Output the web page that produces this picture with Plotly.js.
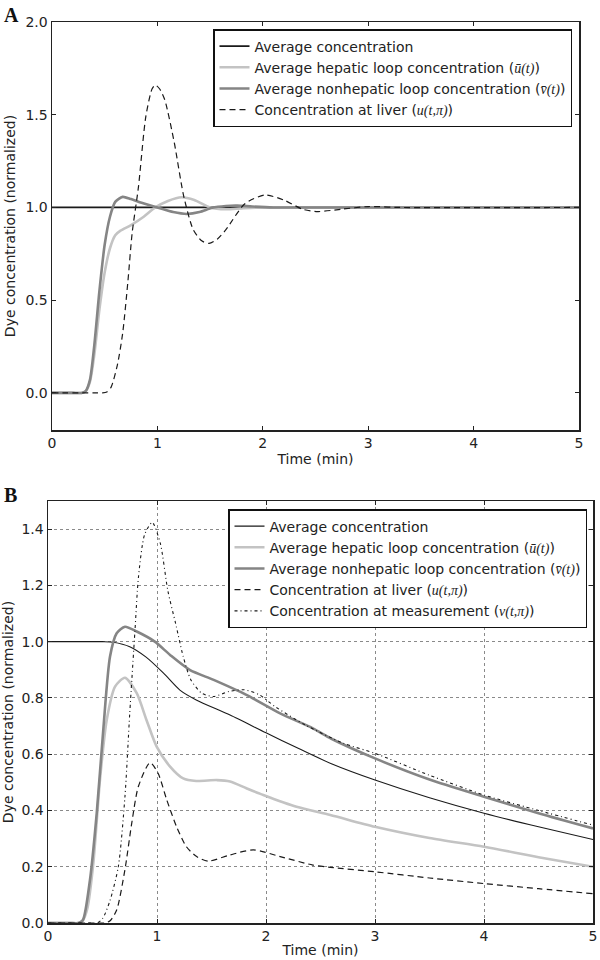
<!DOCTYPE html>
<html>
<head>
<meta charset="utf-8">
<script src="https://cdn.plot.ly/plotly-3.0.1.min.js"></script>
<style>html,body{margin:0;padding:0;background:#fff;}#chart{width:600px;height:960px;}</style>
</head>
<body>
<div id="chart"></div>
<script>
// ---------- Panel A data ----------
const A_avg_t = [0, 5];
const A_avg_y = [1.0, 1.0];

const A_ubar_t = [0, 0.2, 0.28, 0.32, 0.36, 0.4, 0.45, 0.5, 0.55, 0.6, 0.65, 0.75, 0.87, 0.98, 1.1, 1.23, 1.35, 1.5, 1.65, 1.8, 2.0, 2.3, 5];
const A_ubar_y = [0, 0, 0, 0.01, 0.06, 0.2, 0.45, 0.65, 0.78, 0.85, 0.875, 0.905, 0.95, 1.0, 1.035, 1.055, 1.04, 1.0, 0.99, 0.995, 1.0, 1.0, 1.0];

const A_vbar_t = [0, 0.2, 0.28, 0.32, 0.36, 0.4, 0.45, 0.5, 0.55, 0.6, 0.67, 0.75, 0.85, 1.0, 1.15, 1.28, 1.4, 1.52, 1.65, 1.76, 1.9, 2.1, 2.5, 5];
const A_vbar_y = [0, 0, 0, 0.01, 0.07, 0.25, 0.55, 0.8, 0.95, 1.03, 1.057, 1.045, 1.025, 1.0, 0.975, 0.965, 0.975, 0.998, 1.008, 1.01, 1.005, 1.0, 1.0, 1.0];

const A_liver_t = [0, 0.4, 0.48, 0.52, 0.56, 0.62, 0.67, 0.72, 0.76, 0.82, 0.89, 0.95, 0.98, 1.02, 1.07, 1.16, 1.25, 1.34, 1.42, 1.49, 1.57, 1.65, 1.83, 2.02, 2.2, 2.38, 2.52, 2.74, 3.0, 3.3, 5];
const A_liver_y = [0, 0, 0, 0.005, 0.03, 0.15, 0.32, 0.6, 0.86, 1.11, 1.49, 1.64, 1.66, 1.64, 1.58, 1.35, 1.06, 0.88, 0.82, 0.806, 0.83, 0.88, 1.02, 1.067, 1.04, 0.99, 0.978, 0.99, 1.005, 1.0, 1.0];

// ---------- Panel B data ----------
const B_avg_t = [0, 0.3, 0.5, 0.6, 0.75, 0.9, 1.06, 1.21, 1.36, 1.67, 2.0, 2.3, 2.6, 3.0, 3.5, 4.0, 4.5, 5.0];
const B_avg_y = [1.0, 1.0, 1.0, 0.998, 0.982, 0.945, 0.888, 0.828, 0.793, 0.739, 0.676, 0.62, 0.566, 0.508, 0.445, 0.39, 0.342, 0.297];

const B_ubar_t = [0, 0.2, 0.28, 0.32, 0.36, 0.416, 0.477, 0.538, 0.615, 0.706, 0.814, 0.905, 0.997, 1.12, 1.24, 1.36, 1.55, 1.67, 1.82, 1.975, 2.28, 2.59, 3.0, 3.5, 4.0, 4.5, 5.0];
const B_ubar_y = [0, 0, 0, 0.01, 0.05, 0.213, 0.51, 0.72, 0.84, 0.872, 0.817, 0.72, 0.627, 0.556, 0.514, 0.505, 0.508, 0.503, 0.479, 0.455, 0.413, 0.384, 0.342, 0.302, 0.271, 0.234, 0.2];

const B_vbar_t = [0, 0.2, 0.28, 0.32, 0.385, 0.447, 0.507, 0.569, 0.63, 0.706, 0.814, 0.98, 1.12, 1.3, 1.52, 1.82, 2.13, 2.43, 2.6, 3.0, 3.5, 4.0, 4.5, 5.0];
const B_vbar_y = [0, 0, 0, 0.01, 0.153, 0.39, 0.686, 0.947, 1.03, 1.053, 1.036, 1.0, 0.953, 0.9, 0.864, 0.811, 0.745, 0.692, 0.655, 0.585, 0.51, 0.449, 0.39, 0.336];

const B_liver_t = [0, 0.45, 0.52, 0.57, 0.63, 0.706, 0.768, 0.829, 0.936, 1.01, 1.09, 1.18, 1.27, 1.364, 1.47, 1.67, 1.884, 2.13, 2.43, 2.59, 3.0, 3.5, 4.0, 4.5, 5.0];
const B_liver_y = [0, 0, 0, 0.008, 0.046, 0.19, 0.354, 0.485, 0.57, 0.532, 0.437, 0.342, 0.271, 0.236, 0.22, 0.242, 0.26, 0.236, 0.206, 0.198, 0.182, 0.16, 0.14, 0.122, 0.104];

const B_meas_t = [0, 0.38, 0.45, 0.5, 0.569, 0.645, 0.706, 0.75, 0.798, 0.83, 0.886, 0.956, 1.03, 1.1, 1.17, 1.24, 1.31, 1.41, 1.52, 1.66, 1.8, 1.94, 2.08, 2.36, 2.71, 3.0, 3.5, 4.0, 4.5, 5.0];
const B_meas_y = [0, 0, 0, 0.015, 0.08, 0.2, 0.449, 0.746, 1.04, 1.23, 1.38, 1.424, 1.35, 1.18, 1.066, 0.948, 0.865, 0.817, 0.805, 0.823, 0.829, 0.811, 0.77, 0.704, 0.639, 0.603, 0.525, 0.455, 0.4, 0.348];

// ---------- Labels ----------
const M = (s) => "<span style=\"font-family:'Liberation Serif'\"><i>" + s + "</i></span>";
const NAME_AVG = "Average concentration";
const NAME_UBAR = "Average hepatic loop concentration (" + M("\u016B(t)") + ")";
const NAME_VBAR = "Average nonhepatic loop concentration (" + M("v\u0304(t)") + ")";
const NAME_LIVER = "Concentration at liver (" + M("u(t,\u03C0)") + ")";
const NAME_MEAS = "Concentration at measurement (" + M("v(t,\u03C0)") + ")";
const X_TITLE = "Time (min)";
const Y_TITLE = "Dye concentration (normalized)";

const C_BLACK = '#1a1a1a', C_LIGHT = '#c3c3c3', C_DARK = '#858585';
const SM = 0.7;

function tr(x, y, name, color, width, dash, xa, ya, leg) {
  return {x: x, y: y, name: name, type: 'scatter', mode: 'lines',
    line: {color: color, width: width, dash: dash, shape: 'spline', smoothing: SM},
    xaxis: xa, yaxis: ya, legend: leg, hoverinfo: 'skip'};
}

const data = [
  tr(A_avg_t, A_avg_y, NAME_AVG, C_BLACK, 1.7, 'solid', 'x', 'y', 'legend'),
  tr(A_ubar_t, A_ubar_y, NAME_UBAR, C_LIGHT, 2.6, 'solid', 'x', 'y', 'legend'),
  tr(A_vbar_t, A_vbar_y, NAME_VBAR, C_DARK, 2.6, 'solid', 'x', 'y', 'legend'),
  tr(A_liver_t, A_liver_y, NAME_LIVER, C_BLACK, 1.2, '6px,4px', 'x', 'y', 'legend'),
  tr(B_avg_t, B_avg_y, NAME_AVG, C_BLACK, 1.1, 'solid', 'x2', 'y2', 'legend2'),
  tr(B_ubar_t, B_ubar_y, NAME_UBAR, C_LIGHT, 2.6, 'solid', 'x2', 'y2', 'legend2'),
  tr(B_vbar_t, B_vbar_y, NAME_VBAR, C_DARK, 2.6, 'solid', 'x2', 'y2', 'legend2'),
  tr(B_liver_t, B_liver_y, NAME_LIVER, C_BLACK, 1.2, '6px,4px', 'x2', 'y2', 'legend2'),
  tr(B_meas_t, B_meas_y, NAME_MEAS, C_BLACK, 1.1, '3px,3px,1px,3px', 'x2', 'y2', 'legend2')
];

const FONT = {family: 'DejaVu Sans', size: 14, color: '#222'};
const axBase = {
  ticks: 'inside', ticklen: 4, tickwidth: 1, tickcolor: '#222',
  mirror: 'allticks', showline: true, linecolor: '#222', linewidth: 1.5,
  zeroline: false, tickfont: FONT, automargin: false
};
const legBase = {
  bgcolor: '#fff', bordercolor: '#111', borderwidth: 1.5,
  font: {family: 'DejaVu Sans', size: 14, color: '#222'},
  xanchor: 'right', yanchor: 'top', xref: 'paper', yref: 'paper',
  tracegroupgap: 0, itemwidth: 30
};

const layout = {
  width: 600, height: 960,
  margin: {l: 0, r: 0, t: 0, b: 0},
  paper_bgcolor: '#fff', plot_bgcolor: '#fff',
  showlegend: true,
  font: FONT,
  xaxis: Object.assign({}, axBase, {domain: [52/600, 579/600], anchor: 'y', range: [0, 5], dtick: 1, tick0: 0,
    showgrid: false, title: {text: X_TITLE, font: FONT, standoff: 4}}),
  yaxis: Object.assign({}, axBase, {domain: [1 - 430/960, 1 - 22/960], anchor: 'x', range: [-0.2, 2.0], dtick: 0.5, tick0: 0,
    tickformat: '.1f', showgrid: false, title: {text: Y_TITLE, font: FONT, standoff: 6}}),
  xaxis2: Object.assign({}, axBase, {domain: [48/600, 593/600], anchor: 'y2', range: [0, 5], dtick: 1, tick0: 0,
    showgrid: true, gridcolor: '#8a8a8a', gridwidth: 1, griddash: 'dot',
    title: {text: X_TITLE, font: FONT, standoff: 2}}),
  yaxis2: Object.assign({}, axBase, {domain: [1 - 923/960, 1 - 501/960], anchor: 'x2', range: [0, 1.5], dtick: 0.2, tick0: 0,
    tickformat: '.1f', showgrid: true, gridcolor: '#8a8a8a', gridwidth: 1, griddash: 'dot',
    title: {text: Y_TITLE, font: FONT, standoff: 6}}),
  legend: Object.assign({}, legBase, {x: 572/600, y: 1 - 29/960}),
  legend2: Object.assign({}, legBase, {x: 587/600, y: 1 - 509/960}),
  annotations: [
    {text: '<b>A</b>', xref: 'paper', yref: 'paper', x: 2/600, y: 1 - 2/960, xanchor: 'left', yanchor: 'top',
      showarrow: false, font: {family: 'Liberation Serif', size: 20, color: '#111'}},
    {text: '<b>B</b>', xref: 'paper', yref: 'paper', x: 2/600, y: 1 - 482/960, xanchor: 'left', yanchor: 'top',
      showarrow: false, font: {family: 'Liberation Serif', size: 20, color: '#111'}}
  ]
};

Plotly.newPlot('chart', data, layout, {displayModeBar: false, staticPlot: true});
</script>
</body>
</html>
